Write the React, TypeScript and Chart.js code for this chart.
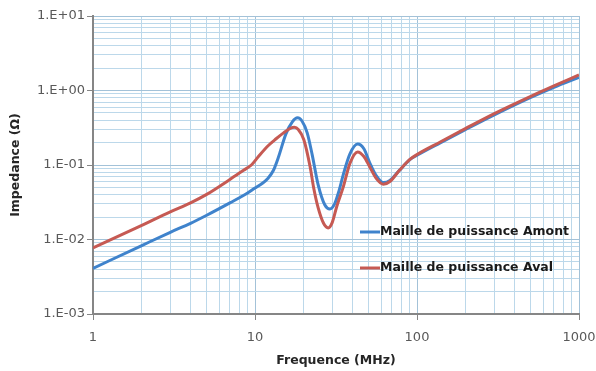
import React, { useEffect, useRef } from "react";
import { Chart, registerables } from "chart.js";

Chart.register(...registerables);

const amontFreq = [1, 2, 3, 4, 5, 7, 9, 10, 11, 12, 13, 14, 15.5, 17, 18.3, 19.5, 21, 22.5, 24.5, 27, 29, 31, 33, 35, 38.5, 43, 47, 51, 56, 62, 68, 78, 90, 100, 140, 200, 300, 500, 700, 1000];
const amontImp = [0.0041, 0.0083, 0.0125, 0.0165, 0.021, 0.031, 0.042, 0.049, 0.056, 0.066, 0.085, 0.13, 0.26, 0.38, 0.43, 0.39, 0.27, 0.14, 0.055, 0.029, 0.0257, 0.03, 0.045, 0.073, 0.14, 0.191, 0.165, 0.108, 0.072, 0.058, 0.062, 0.085, 0.117, 0.135, 0.2, 0.3, 0.47, 0.8, 1.1, 1.5];

const avalFreq = [1, 2, 3, 4, 5, 7, 8.5, 9.5, 10.5, 12, 13.5, 15, 16.5, 17.5, 18.5, 20, 21.9, 23, 24.5, 26.5, 28.3, 30, 32, 35, 38.6, 43, 47, 51, 56, 62, 68, 78, 90, 100, 140, 200, 300, 500, 700, 1000];
const avalImp = [0.0077, 0.0155, 0.0235, 0.031, 0.04, 0.064, 0.085, 0.1, 0.13, 0.18, 0.225, 0.27, 0.31, 0.32, 0.3, 0.22, 0.094, 0.05, 0.027, 0.0165, 0.0143, 0.017, 0.028, 0.05, 0.106, 0.15, 0.13, 0.095, 0.066, 0.055, 0.06, 0.085, 0.118, 0.138, 0.205, 0.31, 0.49, 0.83, 1.15, 1.62];

const seriesLabels = ["Maille de puissance Amont", "Maille de puissance Aval"];
const seriesColors = ["#3f83cc", "#c65a53"];

const xTickValues = [1, 2, 3, 4, 5, 6, 7, 8, 9, 10, 20, 30, 40, 50, 60, 70, 80, 90, 100, 200, 300, 400, 500, 600, 700, 800, 900, 1000];
const yTickValues = [
  0.001, 0.002, 0.003, 0.004, 0.005, 0.006, 0.007, 0.008, 0.009,
  0.01, 0.02, 0.03, 0.04, 0.05, 0.06, 0.07, 0.08, 0.09,
  0.1, 0.2, 0.3, 0.4, 0.5, 0.6, 0.7, 0.8, 0.9,
  1, 2, 3, 4, 5, 6, 7, 8, 9, 10,
];

const isPow10 = (v: number) => Math.abs(Math.log10(v) - Math.round(Math.log10(v))) < 1e-9;
const yLabel = (v: number) => {
  const e = Math.round(Math.log10(v));
  const a = Math.abs(e);
  return "1.E" + (e >= 0 ? "+" : "-") + (a < 10 ? "0" : "") + a;
};

const legendPlugin = {
  id: "insideLegend",
  afterDatasetsDraw(chart: any) {
    const { ctx, chartArea } = chart;
    const x0 = chartArea.left + 267;
    const rows = [chartArea.top + 216, chartArea.top + 252];
    ctx.save();
    chart.data.datasets.forEach((ds: any, i: number) => {
      const y = rows[i];
      ctx.strokeStyle = ds.borderColor;
      ctx.lineWidth = 3;
      ctx.beginPath();
      ctx.moveTo(x0, y);
      ctx.lineTo(x0 + 20, y);
      ctx.stroke();
      ctx.fillStyle = "#1a1a1a";
      ctx.font = "bold 12.5px 'DejaVu Sans'";
      ctx.textBaseline = "middle";
      ctx.textAlign = "left";
      ctx.fillText(ds.label, x0 + 20, y);
    });
    ctx.restore();
  },
};

export default function App() {
  const ref = useRef<HTMLCanvasElement | null>(null);
  useEffect(() => {
    if (!ref.current) return;
    const gridColor = (c: any) =>
      c.tick && isPow10(c.tick.value) ? "#a3c2d8" : "#bcd8ea";
    const tickColor = (c: any) =>
      c.tick && isPow10(c.tick.value) ? "#868686" : "rgba(0,0,0,0)";
    const chart = new Chart(ref.current, {
      type: "line",
      data: {
        datasets: [
          {
            label: seriesLabels[0],
            data: amontFreq.map((f, i) => ({ x: f, y: amontImp[i] })),
            borderColor: seriesColors[0],
            backgroundColor: seriesColors[0],
            borderWidth: 3,
            pointRadius: 0,
            cubicInterpolationMode: "monotone",
            order: 1,
          },
          {
            label: seriesLabels[1],
            data: avalFreq.map((f, i) => ({ x: f, y: avalImp[i] })),
            borderColor: seriesColors[1],
            backgroundColor: seriesColors[1],
            borderWidth: 3,
            pointRadius: 0,
            cubicInterpolationMode: "monotone",
            order: 0,
          },
        ],
      },
      options: {
        animation: false,
        responsive: false,
        layout: { padding: { left: 0, right: 17, top: 16, bottom: 0 } },
        plugins: { legend: { display: false }, tooltip: { enabled: false } },
        scales: {
          x: {
            type: "logarithmic",
            min: 1,
            max: 1000,
            afterBuildTicks: (s: any) => {
              s.ticks = xTickValues.map((v) => ({ value: v, major: false }));
            },
            afterFit: (s: any) => {
              s.height = 57;
              s.paddingLeft = 0;
              s.paddingRight = 0;
            },
            grid: { color: gridColor, tickColor, tickLength: 6, lineWidth: 1 },
            border: { color: "#868686", width: 2 },
            ticks: {
              autoSkip: false,
              maxRotation: 0,
              padding: 10,
              color: "#595959",
              font: { family: "'DejaVu Sans'", size: 13 },
              callback: (v: any) => (isPow10(Number(v)) ? String(Math.round(Number(v))) : ""),
            },
            title: {
              display: true,
              text: "Frequence (MHz)",
              color: "#262626",
              font: { family: "'DejaVu Sans'", size: 12.5, weight: "bold" },
              padding: { top: 0, bottom: 3 },
            },
          },
          y: {
            type: "logarithmic",
            min: 0.001,
            max: 10,
            afterBuildTicks: (s: any) => {
              s.ticks = yTickValues.map((v) => ({ value: v, major: false }));
            },
            afterFit: (s: any) => {
              s.width = 93;
              s.paddingTop = 0;
              s.paddingBottom = 0;
            },
            grid: { color: gridColor, tickColor, tickLength: 6, lineWidth: 1 },
            border: { color: "#868686", width: 2 },
            ticks: {
              autoSkip: false,
              padding: 2,
              color: "#595959",
              font: { family: "'DejaVu Sans'", size: 13 },
              callback: (v: any) => (isPow10(Number(v)) ? yLabel(Number(v)) : ""),
            },
            title: {
              display: true,
              text: "Impedance (Ω)",
              color: "#262626",
              font: { family: "'DejaVu Sans'", size: 12.5, weight: "bold" },
              padding: { top: 8, bottom: 0 },
            },
          },
        },
      },
      plugins: [legendPlugin],
    } as any);
    return () => chart.destroy();
  }, []);
  return (
    <div style={{ position: "fixed", left: 0, top: 0, width: 596, height: 371, background: "#fff" }}>
      <canvas ref={ref} width={596} height={371} style={{ display: "block" }} />
    </div>
  );
}
